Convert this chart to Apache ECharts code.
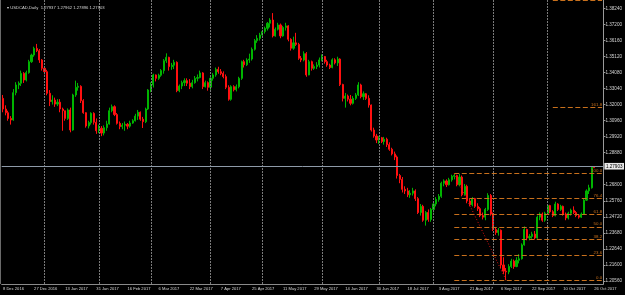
<!DOCTYPE html>
<html><head><meta charset="utf-8">
<script src="https://cdn.jsdelivr.net/npm/echarts@6/dist/echarts.min.js"></script>
<style>html,body{margin:0;padding:0;background:#000;}#c{width:625px;height:295px;}</style>
</head><body><div id="c"></div>
<script>
// ---- data ----
const startDate = '2016-12-08', endDate = '2017-10-26';
const holidays = ['2016-12-26', '2017-01-02'];
const open = [1.3240,1.3171,1.3147,1.3110,1.3100,1.3277,1.3327,1.3338,1.3402,1.3359,
1.3407,1.3478,1.3521,1.3564,1.3549,1.3489,1.3435,1.3413,1.3273,1.3219,
1.3229,1.3203,1.3215,1.3171,1.3160,1.3110,1.3165,1.3035,1.3262,1.3312,
1.3318,1.3225,1.3147,1.3061,1.3083,1.3143,1.3085,1.3030,1.3046,1.3015,
1.3050,1.3074,1.3160,1.3186,1.3135,1.3078,1.3057,1.3066,1.3072,1.3060,
1.3080,1.3095,1.3125,1.3150,1.3105,1.3089,1.3171,1.3294,1.3327,1.3392,
1.3370,1.3390,1.3420,1.3484,1.3506,1.3446,1.3455,1.3474,1.3290,1.3320,
1.3342,1.3355,1.3338,1.3316,1.3342,1.3370,1.3375,1.3405,1.3316,1.3342,
1.3312,1.3370,1.3392,1.3428,1.3413,1.3402,1.3381,1.3312,1.3234,1.3316,
1.3296,1.3316,1.3370,1.3478,1.3458,1.3489,1.3495,1.3558,1.3614,1.3629,
1.3651,1.3673,1.3694,1.3727,1.3748,1.3645,1.3688,1.3716,1.3645,1.3700,
1.3710,1.3623,1.3565,1.3600,1.3590,1.3500,1.3489,1.3530,1.3392,1.3478,
1.3435,1.3446,1.3456,1.3489,1.3511,1.3478,1.3456,1.3440,1.3490,1.3470,
1.3495,1.3330,1.3240,1.3255,1.3235,1.3208,1.3240,1.3262,1.3327,1.3251,
1.3270,1.3240,1.3197,1.3035,1.2996,1.2970,1.2985,1.2960,1.2975,1.2940,
1.2910,1.2880,1.2860,1.2740,1.2715,1.2650,1.2640,1.2615,1.2625,1.2640,
1.2590,1.2500,1.2540,1.2450,1.2500,1.2455,1.2520,1.2555,1.2585,1.2605,
1.2690,1.2705,1.2680,1.2712,1.2735,1.2740,1.2680,1.2730,1.2615,1.2670,
1.2575,1.2550,1.2590,1.2540,1.2525,1.2480,1.2470,1.2520,1.2610,1.2490,
1.2390,1.2370,1.2385,1.2160,1.2120,1.2115,1.2150,1.2185,1.2150,1.2190,
1.2200,1.2290,1.2390,1.2335,1.2345,1.2360,1.2335,1.2470,1.2490,1.2450,
1.2495,1.2545,1.2505,1.2480,1.2555,1.2520,1.2540,1.2490,1.2465,1.2495,
1.2515,1.2500,1.2480,1.2470,1.2490,1.2580,1.2640,1.2660,1.27937];
const close = [1.3171,1.3147,1.3110,1.3100,1.3277,1.3327,1.3338,1.3402,1.3359,1.3407,
1.3478,1.3521,1.3564,1.3549,1.3489,1.3435,1.3413,1.3273,1.3219,1.3229,
1.3203,1.3215,1.3171,1.3160,1.3110,1.3165,1.3035,1.3262,1.3312,1.3318,
1.3225,1.3147,1.3061,1.3083,1.3143,1.3085,1.3030,1.3046,1.3015,1.3050,
1.3074,1.3160,1.3186,1.3135,1.3078,1.3057,1.3066,1.3072,1.3060,1.3080,
1.3095,1.3125,1.3150,1.3105,1.3089,1.3171,1.3294,1.3327,1.3392,1.3370,
1.3390,1.3420,1.3484,1.3506,1.3446,1.3455,1.3474,1.3290,1.3320,1.3342,
1.3355,1.3338,1.3316,1.3342,1.3370,1.3375,1.3405,1.3316,1.3342,1.3312,
1.3370,1.3392,1.3428,1.3413,1.3402,1.3381,1.3312,1.3234,1.3316,1.3296,
1.3316,1.3370,1.3478,1.3458,1.3489,1.3495,1.3558,1.3614,1.3629,1.3651,
1.3673,1.3694,1.3727,1.3748,1.3645,1.3688,1.3716,1.3645,1.3700,1.3710,
1.3623,1.3565,1.3600,1.3590,1.3500,1.3489,1.3530,1.3392,1.3478,1.3435,
1.3446,1.3456,1.3489,1.3511,1.3478,1.3456,1.3440,1.3490,1.3470,1.3495,
1.3330,1.3240,1.3255,1.3235,1.3208,1.3240,1.3262,1.3327,1.3251,1.3270,
1.3240,1.3197,1.3035,1.2996,1.2970,1.2985,1.2960,1.2975,1.2940,1.2910,
1.2880,1.2860,1.2740,1.2715,1.2650,1.2640,1.2615,1.2625,1.2640,1.2590,
1.2500,1.2540,1.2450,1.2500,1.2455,1.2520,1.2555,1.2585,1.2605,1.2690,
1.2705,1.2680,1.2712,1.2735,1.2740,1.2680,1.2730,1.2615,1.2670,1.2575,
1.2550,1.2590,1.2540,1.2525,1.2480,1.2470,1.2520,1.2610,1.2490,1.2390,
1.2370,1.2385,1.2160,1.2120,1.2115,1.2150,1.2185,1.2150,1.2190,1.2200,
1.2290,1.2390,1.2335,1.2345,1.2360,1.2335,1.2470,1.2490,1.2450,1.2495,
1.2545,1.2505,1.2480,1.2555,1.2520,1.2540,1.2490,1.2465,1.2495,1.2515,
1.2500,1.2480,1.2470,1.2490,1.2580,1.2640,1.2660,1.2794,1.27903];
const high = [1.3262,1.3195,1.3160,1.3125,1.3300,1.3345,1.3350,1.3420,1.3410,1.3420,
1.3490,1.3530,1.3575,1.3593,1.3560,1.3495,1.3450,1.3425,1.3294,1.3260,
1.3245,1.3235,1.3235,1.3180,1.3160,1.3175,1.3180,1.3270,1.3355,1.3340,
1.3325,1.3235,1.3150,1.3095,1.3150,1.3150,1.3110,1.3070,1.3060,1.3065,
1.3095,1.3180,1.3200,1.3195,1.3145,1.3090,1.3080,1.3090,1.3080,1.3095,
1.3105,1.3140,1.3165,1.3155,1.3120,1.3180,1.3300,1.3345,1.3400,1.3395,
1.3400,1.3430,1.3495,1.3532,1.3510,1.3470,1.3490,1.3480,1.3330,1.3355,
1.3370,1.3370,1.3365,1.3360,1.3385,1.3395,1.3420,1.3410,1.3355,1.3350,
1.3380,1.3405,1.3440,1.3445,1.3430,1.3415,1.3395,1.3325,1.3325,1.3325,
1.3330,1.3380,1.3485,1.3490,1.3500,1.3530,1.3570,1.3625,1.3650,1.3665,
1.3685,1.3705,1.3735,1.3760,1.3793,1.3700,1.3730,1.3725,1.3710,1.3730,
1.3715,1.3630,1.3640,1.3665,1.3600,1.3515,1.3545,1.3540,1.3490,1.3485,
1.3460,1.3475,1.3505,1.3525,1.3515,1.3490,1.3465,1.3500,1.3500,1.3510,
1.3500,1.3335,1.3275,1.3265,1.3262,1.3255,1.3275,1.3345,1.3335,1.3285,
1.3275,1.3260,1.3200,1.3050,1.3010,1.2995,1.2990,1.2990,1.2985,1.2955,
1.2920,1.2895,1.2870,1.2750,1.2730,1.2670,1.2660,1.2645,1.2660,1.2650,
1.2600,1.2555,1.2550,1.2510,1.2520,1.2530,1.2570,1.2600,1.2620,1.2700,
1.2715,1.2715,1.2725,1.2745,1.2754,1.2745,1.2750,1.2740,1.2685,1.2680,
1.2590,1.2600,1.2595,1.2560,1.2535,1.2500,1.2530,1.2625,1.2620,1.2500,
1.2400,1.2400,1.2390,1.2210,1.2140,1.2165,1.2200,1.2195,1.2210,1.2230,
1.2300,1.2410,1.2395,1.2360,1.2375,1.2380,1.2480,1.2500,1.2500,1.2505,
1.2555,1.2550,1.2515,1.2570,1.2560,1.2550,1.2545,1.2500,1.2505,1.2525,
1.2540,1.2510,1.2490,1.2500,1.2590,1.2650,1.2680,1.2800,1.27962];
const low = [1.3150,1.3130,1.3095,1.3070,1.3095,1.3260,1.3300,1.3320,1.3340,1.3350,
1.3400,1.3470,1.3510,1.3540,1.3470,1.3420,1.3395,1.3260,1.3190,1.3200,
1.3185,1.3190,1.3150,1.3030,1.3095,1.3100,1.3020,1.3030,1.3250,1.3290,
1.3210,1.3140,1.3050,1.3045,1.3070,1.3070,1.3010,1.3015,1.2995,1.3000,
1.3030,1.3070,1.3150,1.3125,1.3070,1.3040,1.3040,1.3030,1.3040,1.3050,
1.3075,1.3090,1.3100,1.3095,1.3048,1.3080,1.3165,1.3280,1.3310,1.3350,
1.3360,1.3380,1.3400,1.3470,1.3420,1.3425,1.3430,1.3280,1.3280,1.3300,
1.3320,1.3320,1.3300,1.3305,1.3335,1.3350,1.3370,1.3300,1.3310,1.3290,
1.3290,1.3355,1.3380,1.3400,1.3390,1.3370,1.3300,1.3225,1.3225,1.3285,
1.3285,1.3305,1.3360,1.3440,1.3450,1.3470,1.3485,1.3550,1.3600,1.3615,
1.3635,1.3660,1.3680,1.3700,1.3635,1.3640,1.3680,1.3630,1.3640,1.3680,
1.3610,1.3550,1.3555,1.3580,1.3490,1.3475,1.3480,1.3380,1.3390,1.3420,
1.3425,1.3430,1.3440,1.3480,1.3465,1.3445,1.3430,1.3435,1.3460,1.3450,
1.3320,1.3220,1.3180,1.3220,1.3195,1.3200,1.3230,1.3255,1.3240,1.3230,
1.3230,1.3180,1.3025,1.2985,1.2950,1.2945,1.2950,1.2940,1.2925,1.2900,
1.2870,1.2840,1.2720,1.2690,1.2630,1.2620,1.2600,1.2595,1.2610,1.2575,
1.2490,1.2480,1.2440,1.2415,1.2440,1.2440,1.2500,1.2540,1.2570,1.2595,
1.2670,1.2665,1.2675,1.2700,1.2715,1.2670,1.2670,1.2605,1.2610,1.2560,
1.2540,1.2540,1.2530,1.2510,1.2470,1.2455,1.2450,1.2510,1.2480,1.2380,
1.2355,1.2350,1.2140,1.2100,1.2061,1.2100,1.2140,1.2135,1.2145,1.2170,
1.2195,1.2285,1.2320,1.2320,1.2330,1.2325,1.2330,1.2450,1.2440,1.2440,
1.2490,1.2495,1.2470,1.2475,1.2510,1.2510,1.2480,1.2450,1.2455,1.2480,
1.2490,1.2470,1.2460,1.2465,1.2485,1.2575,1.2620,1.2655,1.27896];
const yTickValues = [1.38240,1.37200,1.36160,1.35120,1.34080,1.33040,1.32000,1.30960,1.29920,1.28880,1.26800,1.25760,1.24720,1.23680,1.22640,1.21600,1.20560];
const fibLow = 1.2061, fibHigh = 1.2754;          // Fibonacci anchors (prices)
const fibLowIdx = 194, fibHighIdx = 174;           // anchor bars
const fibLevels = [0, 23.6, 38.2, 50, 61.8, 76.4, 100, 161.8, 261.8];
const fibExtStartIdx = 212;                          // where the extension levels begin
const lastPrice = 1.27903;
const titleText = '\u25BE USDCAD,Daily  1.27937 1.27962 1.27896 1.27903';
const yMin = 1.20365, yMax = 1.38778;
const emptySlots = 3;

// ---- build categories ----
const MON = ['Jan','Feb','Mar','Apr','May','Jun','Jul','Aug','Sep','Oct','Nov','Dec'];
const days = [];
let d = new Date(startDate + 'T00:00:00Z');
const endD = new Date(endDate + 'T00:00:00Z');
while (d <= endD) {
  const w = d.getUTCDay(), iso = d.toISOString().slice(0, 10);
  if (w !== 0 && w !== 6 && !holidays.includes(iso)) days.push(new Date(d.getTime()));
  d.setUTCDate(d.getUTCDate() + 1);
}
const cats = days.map(t => t.getUTCDate() + ' ' + MON[t.getUTCMonth()] + ' ' + t.getUTCFullYear());
for (let k = 1; k <= emptySlots; k++) cats.push(' '.repeat(k));
const lastSlot = cats.length - 1;

const monthStarts = [];
for (let i = 1; i < days.length; i++) if (days[i].getUTCMonth() !== days[i - 1].getUTCMonth()) monthStarts.push(i);

const candles = open.map((o, i) => [o, close[i], low[i], high[i]]);

const UP = '#00b400', DN = '#ff1010', FIB = '#c8701c', TXT = '#d4d4d4';
const FONT = 'Liberation Sans, Arial, sans-serif';

const fibLines = fibLevels.map(r => {
  const p = fibLow + r / 100 * (fibHigh - fibLow);
  const s = r > 100 ? fibExtStartIdx : fibHighIdx;
  return [{ coord: [s, p], label: { formatter: r.toFixed(1) } }, { coord: [lastSlot, p] }];
});

const chart = echarts.init(document.getElementById('c'), null, { renderer: 'canvas' });
chart.setOption({
  backgroundColor: '#000',
  animation: false,
  title: { text: titleText, left: 2, top: 1, textStyle: { color: TXT, fontSize: 4.2, fontWeight: 'normal', fontFamily: FONT } },
  grid: { left: 0, right: 20, top: 0, bottom: 11 },
  xAxis: {
    type: 'category', data: cats, boundaryGap: true,
    axisLine: { show: true, lineStyle: { color: '#8a8a8a', width: 1 } },
    axisTick: { show: false },
    axisLabel: { interval: 11, color: TXT, fontSize: 4.1, fontFamily: FONT, align: 'left', margin: 2.5 },
    splitLine: { show: false }
  },
  yAxis: {
    type: 'value', position: 'right', min: yMin, max: yMax, scale: true,
    axisLine: { show: true, lineStyle: { color: '#9a9a9a', width: 1 } },
    axisTick: { show: true, length: 2, customValues: yTickValues, lineStyle: { color: '#9a9a9a' } },
    axisLabel: { customValues: yTickValues, formatter: v => v.toFixed(5), color: TXT, fontSize: 4.6, fontFamily: FONT, margin: 2 },
    splitLine: { show: false }
  },
  graphic: [{ type: 'line', shape: { x1: 0.5, y1: 0, x2: 0.5, y2: 284 }, style: { stroke: '#6a6a6a', lineWidth: 1 }, z: 50 }],
  series: [
    {
      type: 'line', data: [], z: 1, silent: true,
      markLine: {
        silent: true, symbol: ['none', 'none'], animation: false, label: { show: false },
        lineStyle: { color: '#7a7a7a', type: [2, 1], width: 1 },
        data: monthStarts.map(i => ({ xAxis: i }))
      }
    },
    {
      type: 'candlestick', data: candles, z: 2, barWidth: 1.6,
      itemStyle: { color: UP, color0: DN, borderColor: UP, borderColor0: DN, borderWidth: 1 }
    },
    {
      type: 'line', data: [], z: 3, silent: true,
      markLine: {
        silent: true, symbol: ['none', 'none'], animation: false,
        lineStyle: { color: FIB, type: [5, 2.5], width: 1 },
        label: { show: true, position: 'insideEndTop', color: FIB, fontSize: 4.4, fontFamily: FONT, distance: [0, 0.5] },
        data: fibLines
      }
    },
    {
      type: 'line', data: [], z: 3, silent: true,
      markLine: {
        silent: true, symbol: ['none', 'none'], animation: false, label: { show: false },
        lineStyle: { color: '#e01010', type: [1, 2], width: 1 },
        data: [[{ coord: [fibHighIdx, fibHigh] }, { coord: [fibLowIdx, fibLow] }]]
      }
    },
    {
      type: 'line', data: [], z: 4, silent: true,
      markLine: {
        silent: true, symbol: ['none', 'none'], animation: false,
        lineStyle: { color: '#8e9aa8', type: 'solid', width: 1 },
        label: { show: true, position: 'end', formatter: lastPrice.toFixed(5), color: '#000', backgroundColor: '#e8e8e8',
                 fontSize: 4.6, fontFamily: FONT, padding: [0.8, 1.5], distance: 1 },
        data: [{ yAxis: lastPrice }]
      }
    }
  ]
});
</script>
</body></html>
